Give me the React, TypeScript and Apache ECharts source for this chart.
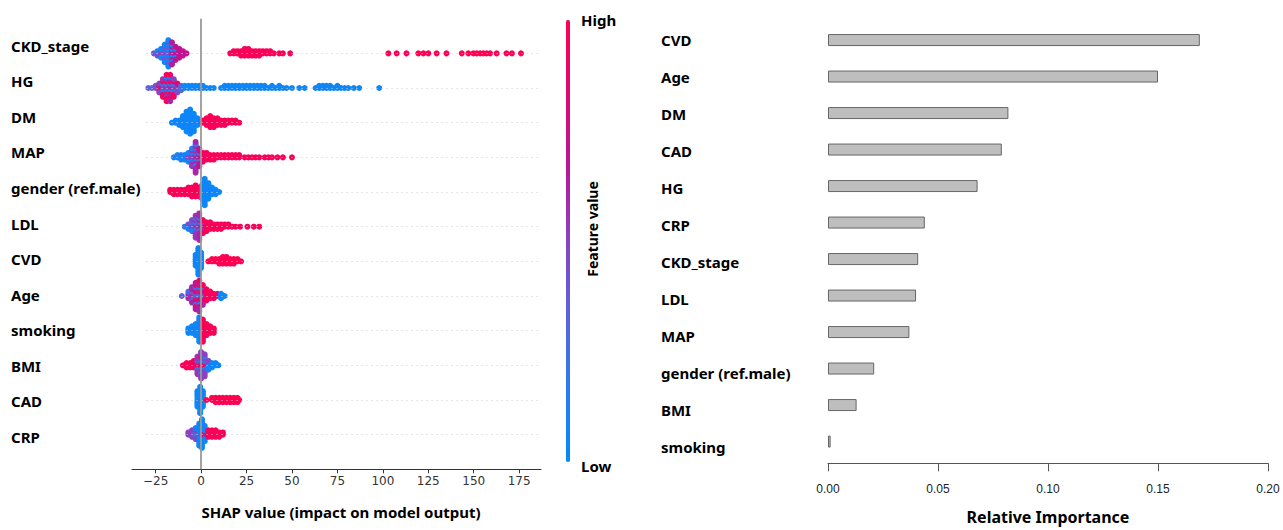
import React, { useEffect, useRef } from 'react';
import * as echarts from 'echarts';

// ---------- Left panel: SHAP beeswarm ----------
const featureNames = ['CKD_stage', 'HG', 'DM', 'MAP', 'gender (ref.male)', 'LDL', 'CVD', 'Age', 'smoking', 'BMI', 'CAD', 'CRP'];

// bins: [SHAP value, number of dots, feature value (0 = low, 1 = high)]
const ckdStage = [
  [-26, 1, 0.4], [-24, 2, 0.45], [-24, 1, 0.1], [-22, 3, 0.05], [-22, 2, 0.5],
  [-20, 5, 0.05], [-20, 4, 0.45], [-18, 7, 0.05], [-18, 6, 0.4], [-16, 5, 0.1], [-16, 6, 0.65],
  [-14, 3, 0.1], [-14, 4, 0.7], [-12, 5, 0.7], [-10, 3, 0.72], [-8, 1, 0.7],
  [16, 1, 0.95], [18, 2, 0.95], [20, 2, 0.97], [22, 3, 0.97], [24, 4, 0.97], [26, 4, 0.97],
  [28, 3, 0.97], [30, 3, 0.97], [32, 3, 0.97], [34, 2, 0.97], [36, 2, 0.97], [38, 2, 0.97],
  [40, 1, 0.97], [43, 1, 0.97], [45, 1, 0.97], [49, 1, 0.97],
  [103, 1, 1], [107.6, 1, 1], [113, 1, 1], [119.5, 1, 1], [122.3, 1, 1], [125, 1, 1], [129.6, 1, 1],
  [135, 1, 1], [143.4, 1, 1], [147, 1, 1], [149.8, 1, 1], [151.6, 1, 1], [153.5, 1, 1], [155.3, 1, 1],
  [157.1, 1, 1], [159, 1, 1], [162.6, 1, 1], [168, 1, 1], [171, 1, 1], [176, 1, 1],
];
const hg = [
  [-29, 1, 0.35], [-27, 1, 0.35], [-25, 2, 0.4], [-23, 3, 0.5], [-23, 2, 0.9],
  [-21, 4, 0.9], [-21, 3, 0.55], [-21, 2, 0.2], [-19, 6, 0.95], [-19, 4, 0.55], [-19, 3, 0.15],
  [-17, 5, 0.95], [-17, 5, 0.6], [-17, 3, 0.2], [-15, 4, 0.9], [-15, 3, 0.5], [-15, 2, 0.15],
  [-13, 2, 0.85], [-13, 3, 0.45], [-11, 3, 0.3],
  [-9, 2, 0.05], [-7, 2, 0.05], [-5, 2, 0.05], [-3, 2, 0.05], [-1, 2, 0.05], [1, 2, 0.05],
  [3, 1, 0.05], [5, 1, 0.05], [7, 1, 0.05],
  [11, 1, 0.05], [13, 2, 0.05], [15, 2, 0.05], [17, 2, 0.05], [19, 2, 0.05], [21, 2, 0.05],
  [23, 2, 0.05], [25, 2, 0.05], [27, 2, 0.05], [29, 2, 0.05], [31, 2, 0.05], [33, 2, 0.05],
  [35, 2, 0.05], [37, 1, 0.05], [39, 2, 0.05], [41, 1, 0.05], [43, 2, 0.05], [45, 1, 0.05],
  [47, 1, 0.05], [50, 1, 0.05], [54, 1, 0.05], [57, 1, 0.05], [63, 1, 0.05], [65, 2, 0.05],
  [67, 2, 0.05], [69, 2, 0.05], [71, 2, 0.05], [73, 1, 0.05], [75, 2, 0.05], [77, 1, 0.05],
  [79, 1, 0.05], [81, 1, 0.05], [84, 1, 0.05], [87, 1, 0.05], [98, 1, 0.05],
];
const dm = [
  [-16, 1, 0.05], [-14, 2, 0.05], [-12, 3, 0.05], [-10, 6, 0.05], [-8, 10, 0.05], [-6, 12, 0.05],
  [-4, 9, 0.05], [-2, 4, 0.05],
  [1, 2, 0.97], [3, 4, 0.97], [5, 6, 0.97], [7, 5, 0.97], [9, 4, 0.97], [11, 3, 0.97], [13, 3, 0.97],
  [15, 2, 0.97], [17, 2, 0.97], [19, 2, 0.97], [21, 1, 0.97],
];
const map = [
  [-15, 1, 0.1], [-13, 2, 0.1], [-11, 3, 0.1], [-9, 3, 0.1], [-7, 3, 0.1], [-7, 2, 0.5],
  [-5, 4, 0.15], [-5, 5, 0.55], [-3, 6, 0.2], [-3, 9, 0.6], [-1, 3, 0.3], [-1, 6, 0.7],
  [1, 5, 0.9], [3, 4, 0.95], [5, 3, 0.97], [7, 3, 0.97], [9, 2, 0.97], [11, 2, 0.97], [13, 2, 0.97],
  [15, 2, 0.97], [17, 2, 0.97], [19, 2, 0.97], [21, 2, 0.97], [24, 1, 0.97], [26, 1, 0.97],
  [28, 1, 0.97], [30, 1, 0.97], [32, 1, 0.97], [35, 1, 0.97], [37, 1, 0.97], [39, 1, 0.97],
  [42, 1, 0.97], [45, 1, 0.97], [50, 1, 0.97],
];
const gender = [
  [-17, 2, 0.97], [-15, 3, 0.97], [-13, 3, 0.97], [-11, 3, 0.97], [-9, 3, 0.97], [-7, 4, 0.97],
  [-5, 5, 0.97], [-3, 6, 0.97], [-1, 5, 0.97],
  [0.5, 7, 0.05], [2, 13, 0.05], [4, 8, 0.05], [6, 4, 0.05], [8, 3, 0.05], [10, 1, 0.05],
];
const ldl = [
  [-9, 1, 0.15], [-7, 2, 0.1], [-7, 1, 0.45], [-5, 3, 0.1], [-5, 3, 0.5], [-3, 4, 0.2], [-3, 7, 0.55],
  [-1, 4, 0.3], [-1, 9, 0.6], [1, 3, 0.5], [1, 4, 0.9],
  [3, 5, 0.97], [5, 4, 0.97], [7, 3, 0.97], [9, 3, 0.97], [11, 3, 0.97], [13, 2, 0.97], [15, 2, 0.97],
  [17, 1, 0.97], [19, 1, 0.97], [21.5, 1, 0.97], [25.5, 1, 0.97], [29, 1, 0.97], [32, 1, 0.97],
];
const cvd = [
  [-3, 6, 0.05], [-1.5, 13, 0.05], [0, 8, 0.05],
  [4, 1, 1], [6, 2, 1], [8, 2, 1], [10, 3, 1], [12, 4, 1], [14, 4, 1], [16, 3, 1], [18, 3, 1],
  [20, 2, 1], [22, 1, 1],
];
const age = [
  [-10.6, 1, 0.35], [-7, 2, 0.3], [-7, 2, 0.6], [-5, 3, 0.35], [-5, 5, 0.6],
  [-3, 5, 0.65], [-3, 4, 0.3], [-3, 4, 0.95], [-1, 6, 0.6], [-1, 4, 0.2], [-1, 5, 0.95],
  [1, 4, 0.95], [1, 3, 0.3], [1, 3, 0.6],
  [3, 6, 0.95], [5, 4, 0.95], [7, 3, 0.95], [9, 2, 0.9], [11, 3, 0.05], [13, 1, 0.05],
];
const smoking = [
  [-7, 3, 0.05], [-5, 4, 0.05], [-3, 6, 0.05], [-1, 12, 0.05],
  [1, 11, 0.97], [3, 6, 0.97], [5, 4, 0.97], [7, 3, 0.97],
];
const bmi = [
  [-10, 1, 0.97], [-8, 3, 0.97], [-6, 3, 0.97], [-4, 4, 0.97],
  [-2, 5, 0.55], [-2, 2, 0.95], [-2, 2, 0.2], [0, 7, 0.55], [0, 3, 0.9], [0, 3, 0.2],
  [2, 6, 0.5], [2, 2, 0.9], [2, 3, 0.15], [4, 2, 0.5], [4, 3, 0.1],
  [6, 3, 0.05], [8, 2, 0.05], [9.5, 1, 0.05],
];
const cad = [
  [-2, 8, 0.05], [-0.5, 13, 0.05], [1, 8, 0.05],
  [3, 1, 1], [6, 2, 1], [8, 3, 1], [10, 3, 1], [12, 3, 1], [14, 3, 1], [16, 3, 1], [18, 3, 1],
  [20, 3, 1], [21, 1, 1],
];
const crp = [
  [-7, 2, 0.5], [-5, 4, 0.5], [-3, 3, 0.5], [-3, 3, 0.1], [-1, 9, 0.05], [-1, 2, 0.4],
  [0.5, 14, 0.05], [2, 6, 0.05], [2, 2, 0.9],
  [4, 4, 0.97], [6, 4, 0.97], [8, 4, 0.97], [10, 3, 0.97], [12, 2, 0.97],
];
const swarmRows = [ckdStage, hg, dm, map, gender, ldl, cvd, age, smoking, bmi, cad, crp];

const shapTicks = [-25, 0, 25, 50, 75, 100, 125, 150, 175];
const colorStops = ['#008bfb', '#2b7bf0', '#5a63de', '#8b42c2', '#b8169a', '#e00874', '#ff0052'];

// ---------- Right panel: relative importance ----------
const importanceNames = ['CVD', 'Age', 'DM', 'CAD', 'HG', 'CRP', 'CKD_stage', 'LDL', 'MAP', 'gender (ref.male)', 'BMI', 'smoking'];
const importanceValues = [0.169, 0.150, 0.082, 0.079, 0.068, 0.044, 0.041, 0.040, 0.037, 0.021, 0.013, 0.0012];

// layout
const SW_TOP = 18.7;
const SW_HEIGHT = 450.6;
const ROW_PX = SW_HEIGHT / 13;
const STEP_PX = 2.2;

function buildSwarm() {
  const pts: number[][] = [];
  swarmRows.forEach((bins, i) => {
    const row = featureNames.length - 1 - i;
    const groups = new Map<number, number[][]>();
    bins.forEach(([x, n, c]) => {
      if (!groups.has(x)) groups.set(x, []);
      groups.get(x)!.push([n, c]);
    });
    groups.forEach((entries, x) => {
      const rem = entries.map((e) => e[0]);
      const seq: number[] = [];
      let total = rem.reduce((a, b) => a + b, 0);
      seq.push(entries[0][1]);
      rem[0]--;
      total--;
      let j = 1 % entries.length;
      while (total > 0) {
        let guard = 0;
        while (rem[j] <= 0 && guard < entries.length) { j = (j + 1) % entries.length; guard++; }
        const take = Math.min(2, rem[j]);
        for (let t = 0; t < take; t++) seq.push(entries[j][1]);
        rem[j] -= take;
        total -= take;
        j = (j + 1) % entries.length;
      }
      seq.forEach((c, k) => {
        const layer = Math.ceil(k / 2) * (k % 2 === 1 ? 1 : -1);
        pts.push([x, row + (layer * STEP_PX) / ROW_PX, c]);
      });
    });
  });
  return pts;
}

const labelFont = 'Noto Sans';

export default function App() {
  const ref = useRef<HTMLDivElement>(null);
  useEffect(() => {
    if (!ref.current) return;
    const chart = echarts.init(ref.current, null, { renderer: 'svg' });
    const swarm = buildSwarm();
    const rowLines = featureNames.map((_, i) => [
      { coord: [-30, i], lineStyle: { color: '#cccccc', width: 1, type: [1, 4] } },
      { coord: [187, i] },
    ]);
    const labelAxis = (grid: number, data: string[], margin: number) => ({
      gridIndex: grid, type: 'category', inverse: true, data,
      axisLine: { show: false, onZero: false }, axisTick: { show: false },
      axisLabel: { align: 'left', margin, fontFamily: labelFont, fontWeight: 'bold', fontSize: 15, color: '#000' },
    });
    const g = { outerBoundsMode: 'none', containLabel: false };
    chart.setOption({
      animation: false,
      backgroundColor: '#ffffff',
      grid: [
        { ...g, left: 132, width: 409, top: SW_TOP, height: SW_HEIGHT },
        { ...g, left: 132, width: 409, top: 27.9, height: 426.9 },
        { ...g, left: 828, width: 440, top: 21.8, height: 438 },
        { ...g, left: 828, width: 440, top: 21.5, height: 444 },
      ],
      xAxis: [
        {
          gridIndex: 0, type: 'value', min: -38, max: 187, position: 'bottom',
          axisLine: { onZero: false, lineStyle: { color: '#333333', width: 1 } },
          axisTick: { length: 4, customValues: shapTicks, lineStyle: { color: '#333333' } },
          axisLabel: {
            customValues: shapTicks, color: '#333333', fontFamily: 'DejaVu Sans', fontSize: 12, margin: 6,
            formatter: (v: number) => (v < 0 ? '\u2212' + Math.abs(v) : String(v)),
          },
          splitLine: { show: false },
          name: 'SHAP value (impact on model output)', nameLocation: 'middle', nameGap: 35,
          nameTextStyle: { fontFamily: labelFont, fontWeight: 'bold', fontSize: 15, color: '#000', padding: [0, 0, 0, 9] },
        },
        { gridIndex: 1, type: 'value', show: false, min: 0, max: 1, axisLine: { onZero: false } },
        {
          gridIndex: 2, type: 'value', min: 0, max: 0.2, interval: 0.05, offset: 3.5, position: 'bottom',
          axisLine: { show: true, onZero: false, lineStyle: { color: '#555555', width: 1 } },
          axisTick: { show: true, length: 8, lineStyle: { color: '#555555' } },
          axisLabel: {
            color: '#222222', fontFamily: 'Liberation Sans', fontSize: 12, margin: 20,
            formatter: (v: number) => v.toFixed(2),
          },
          splitLine: { show: false },
          name: 'Relative Importance', nameLocation: 'middle', nameGap: 46,
          nameTextStyle: { fontFamily: labelFont, fontWeight: 'bold', fontSize: 16, color: '#000' },
        },
        { gridIndex: 3, type: 'value', show: false, min: 0, max: 1, axisLine: { onZero: false } },
      ],
      yAxis: [
        { gridIndex: 0, type: 'value', min: -1, max: 12, show: false, axisLine: { onZero: false } },
        labelAxis(1, featureNames, 121),
        { gridIndex: 2, type: 'category', inverse: true, data: importanceNames, axisLine: { show: false, onZero: false }, axisTick: { show: false }, axisLabel: { show: false } },
        labelAxis(3, importanceNames, 167),
      ],
      visualMap: {
        type: 'continuous', min: 0, max: 1, dimension: 2, seriesIndex: 1,
        inRange: { color: colorStops },
        left: 566, top: 20, itemWidth: 4, itemHeight: 442, padding: 0,
        calculable: false, hoverLink: false, show: true,
      },
      graphic: [
        { type: 'text', x: 581, y: 20, style: { text: 'High', font: `bold 15px "${labelFont}"`, fill: '#000', align: 'left', verticalAlign: 'middle' } },
        { type: 'text', x: 581, y: 466, style: { text: 'Low', font: `bold 15px "${labelFont}"`, fill: '#000', align: 'left', verticalAlign: 'middle' } },
        { type: 'text', x: 592, y: 229, rotation: Math.PI / 2, style: { text: 'Feature value', font: `bold 14px "${labelFont}"`, fill: '#000', align: 'center', verticalAlign: 'middle' } },
      ],
      series: [
        {
          type: 'scatter', xAxisIndex: 0, yAxisIndex: 0, data: [], silent: true, z: 1,
          markLine: {
            silent: true, symbol: 'none', label: { show: false },
            data: [
              ...rowLines,
              { xAxis: 0, lineStyle: { color: '#999999', width: 1.8, type: 'solid' } },
            ],
          },
        },
        {
          type: 'scatter', xAxisIndex: 0, yAxisIndex: 0, data: swarm, symbolSize: 6, z: 2,
          itemStyle: { opacity: 1 },
        },
        {
          type: 'bar', xAxisIndex: 2, yAxisIndex: 2, data: importanceValues, barWidth: 12,
          itemStyle: { color: '#bebebe', borderColor: '#666666', borderWidth: 1 },
        },
      ],
    });
    return () => chart.dispose();
  }, []);
  return <div ref={ref} style={{ position: 'fixed', left: 0, top: 0, width: 1283, height: 530 }} />;
}
